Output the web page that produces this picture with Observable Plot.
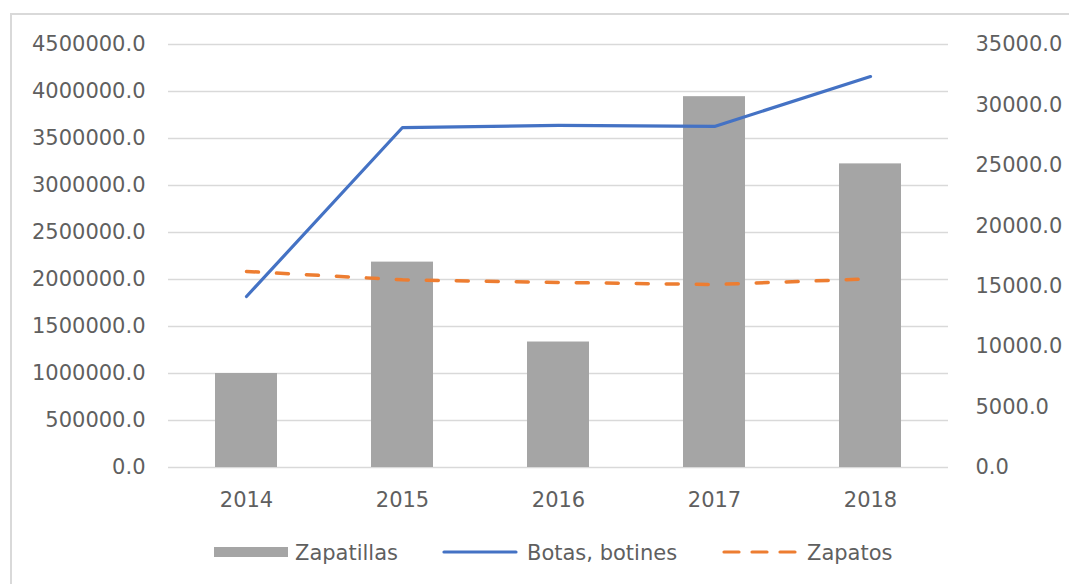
<!DOCTYPE html>
<html>
<head>
<meta charset="utf-8">
<script src="https://cdn.jsdelivr.net/npm/d3@7"></script>
<script src="https://cdn.jsdelivr.net/npm/@observablehq/plot@0.6"></script>
<style>
  html, body { margin: 0; padding: 0; background: #fff; }
  #wrap { position: relative; width: 1069px; height: 584px; overflow: hidden; font-family: "DejaVu Sans", sans-serif; }
  #frame { position: absolute; left: 10px; top: 13px; width: 1080px; height: 600px; border-left: 2px solid #d9d9d9; border-top: 2px solid #d9d9d9; box-sizing: border-box; }
  #chart { position: absolute; left: 0; top: 0; }
  #legend { position: absolute; left: 0; top: 532px; }
</style>
</head>
<body>
<div id="wrap">
  <div id="frame"></div>
  <div id="chart"></div>
  <svg id="legend" width="1069" height="40"></svg>
</div>
<script>
const years = ["2014", "2015", "2016", "2017", "2018"];
const zapatillas = [1000000, 2185000, 1335000, 3945000, 3230000];
const botas = [14150, 28130, 28300, 28220, 32350];
const zapatos = [16220, 15530, 15310, 15140, 15610];
const leftTicks = [0, 500000, 1000000, 1500000, 2000000, 2500000, 3000000, 3500000, 4000000, 4500000];
const rightTicks = [0, 5000, 10000, 15000, 20000, 25000, 30000, 35000];
const seriesNames = ["Zapatillas", "Botas, botines", "Zapatos"];
const colors = ["#a5a5a5", "#4472c4", "#ed7d31"];

const leftMax = 4500000, rightMax = 35000;
const k = leftMax / rightMax;

const barData = years.map((y, i) => ({year: y, value: zapatillas[i]}));
const botasData = years.map((y, i) => ({year: y, value: botas[i] * k}));
const zapatosData = years.map((y, i) => ({year: y, value: zapatos[i] * k}));

const chart = Plot.plot({
  width: 1069,
  height: 520,
  marginTop: 44,
  marginBottom: 53,
  marginLeft: 168,
  marginRight: 121,
  style: {fontFamily: "DejaVu Sans, sans-serif", fontSize: "21px", color: "#5f5f5f", background: "transparent"},
  x: {domain: years, paddingInner: 0.6, paddingOuter: 0.3},
  y: {domain: [0, leftMax]},
  marks: [
    Plot.gridY(leftTicks, {stroke: "#d9d9d9", strokeOpacity: 1, strokeWidth: 1.5}),
    Plot.barY(barData, {x: "year", y: "value", fill: colors[0]}),
    Plot.line(botasData, {x: "year", y: "value", stroke: colors[1], strokeWidth: 3.2, strokeLinecap: "round", strokeLinejoin: "round"}),
    Plot.line(zapatosData, {x: "year", y: "value", stroke: colors[2], strokeWidth: 3.5, strokeDasharray: "12,18", strokeLinecap: "round"}),
    Plot.axisY(leftTicks, {anchor: "left", tickSize: 0, tickPadding: 23, label: null, tickFormat: d => d.toFixed(1)}),
    Plot.axisY(rightTicks.map(v => v * k), {anchor: "right", tickSize: 0, tickPadding: 27, label: null, tickFormat: d => (d / k).toFixed(1)}),
    Plot.axisX({tickSize: 0, tickPadding: 25, label: null})
  ]
});
document.getElementById("chart").appendChild(chart);

// legend
const lg = d3.select("#legend");
const cy = 20;
const items = [
  {name: seriesNames[0], x0: 214, x1: 288, tx: 295, type: "rect"},
  {name: seriesNames[1], x0: 442, x1: 518, tx: 527, type: "line"},
  {name: seriesNames[2], x0: 722, x1: 800, tx: 807, type: "dash"}
];
items.forEach((it, i) => {
  if (it.type === "rect") {
    lg.append("rect").attr("x", it.x0).attr("y", cy - 5).attr("width", it.x1 - it.x0).attr("height", 10).attr("fill", colors[i]);
  } else {
    lg.append("line").attr("x1", it.x0 + 2).attr("x2", it.x1 - 2).attr("y1", cy).attr("y2", cy)
      .attr("stroke", colors[i]).attr("stroke-width", 3.2).attr("stroke-linecap", "round")
      .attr("stroke-dasharray", it.type === "dash" ? "15,13" : null);
  }
  lg.append("text").attr("x", it.tx).attr("y", cy).attr("dy", "0.36em")
    .attr("font-family", "DejaVu Sans, sans-serif").attr("font-size", 21).attr("fill", "#5f5f5f").text(it.name);
});
</script>
</body>
</html>
